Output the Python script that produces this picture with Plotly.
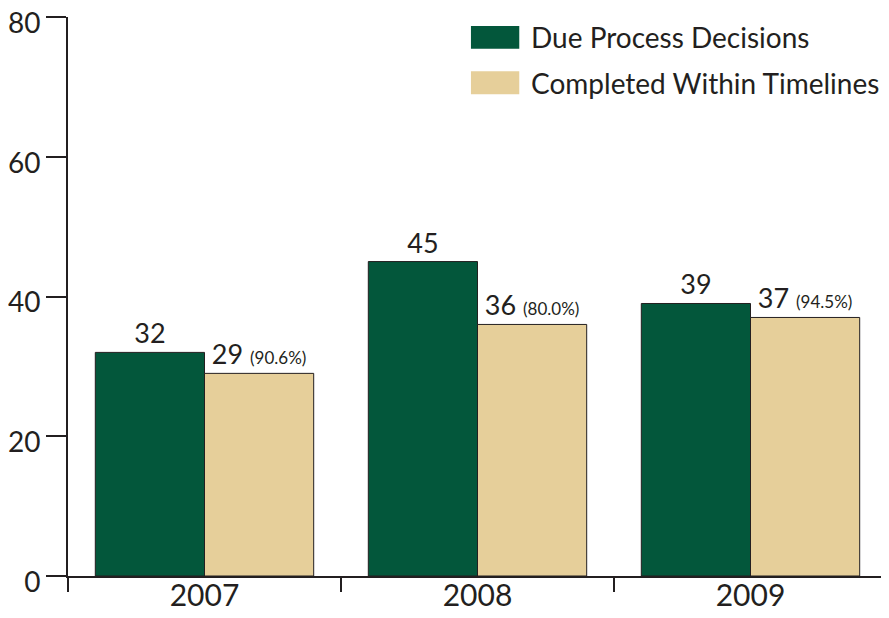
import plotly.graph_objects as go

years = ["2007", "2008", "2009"]
due_process = [32, 45, 39]
completed = [29, 36, 37]
pct_labels = ["(90.6%)", "(80.0%)", "(94.5%)"]

GREEN = "#03573b"
TAN = "#e6cf9a"
INK = "#231f20"
FONT = "Lato"

fig = go.Figure()
fig.add_trace(go.Bar(
    x=years, y=due_process, name="Due Process Decisions",
    marker=dict(color=GREEN, line=dict(color=INK, width=1)),
    text=[str(v) for v in due_process], textposition="outside",
    textfont=dict(family=FONT, size=27, color=INK),
    constraintext="none", cliponaxis=False,
))
fig.add_trace(go.Bar(
    x=years, y=completed, name="Completed Within Timelines",
    marker=dict(color=TAN, line=dict(color=INK, width=1)),
    text=[f"{v} <span style='font-size:17px'>{p}</span>" for v, p in zip(completed, pct_labels)],
    textposition="outside",
    textfont=dict(family=FONT, size=27, color=INK),
    constraintext="none", cliponaxis=False,
))

# manual legend
legend_items = [("Due Process Decisions", GREEN, 0.984, 0.943),
                ("Completed Within Timelines", TAN, 0.903, 0.862)]
for label, col, y1, y0 in legend_items:
    fig.add_shape(type="rect", xref="paper", yref="paper",
                  x0=0.492, x1=0.551, y0=y0, y1=y1,
                  fillcolor=col, line=dict(width=0))
    fig.add_annotation(xref="paper", yref="paper", x=0.563, y=(y0 + y1) / 2,
                       text=label, showarrow=False, xanchor="left", yanchor="middle",
                       font=dict(family=FONT, size=28, color=INK))

# page body has an 8px margin; size the figure so the plot area lands where the reference has it
fig.update_layout(
    width=881, height=610,
    margin=dict(l=60, r=2, t=9, b=42, autoexpand=False),
    plot_bgcolor="white", paper_bgcolor="white",
    barmode="group", bargap=0.2, bargroupgap=0,
    showlegend=False,
    font=dict(family=FONT, color=INK),
)
fig.update_xaxes(
    type="category", showline=True, linecolor=INK, linewidth=2, automargin=False,
    ticks="outside", tickson="boundaries", ticklen=14, tickwidth=2, tickcolor=INK,
    ticklabelstandoff=-8, ticklabeloverflow="allow",
    tickfont=dict(family=FONT, size=30, color=INK), showgrid=False,
)
fig.update_yaxes(
    range=[0, 80], tickvals=[0, 20, 40, 60, 80], automargin=False,
    showline=True, linecolor=INK, linewidth=2,
    ticks="outside", ticklen=20, tickwidth=2, tickcolor=INK,
    ticklabeloverflow="allow", ticklabelshift=6,
    tickfont=dict(family=FONT, size=28, color=INK), showgrid=False, zeroline=False,
)

fig.write_html("out.html")
